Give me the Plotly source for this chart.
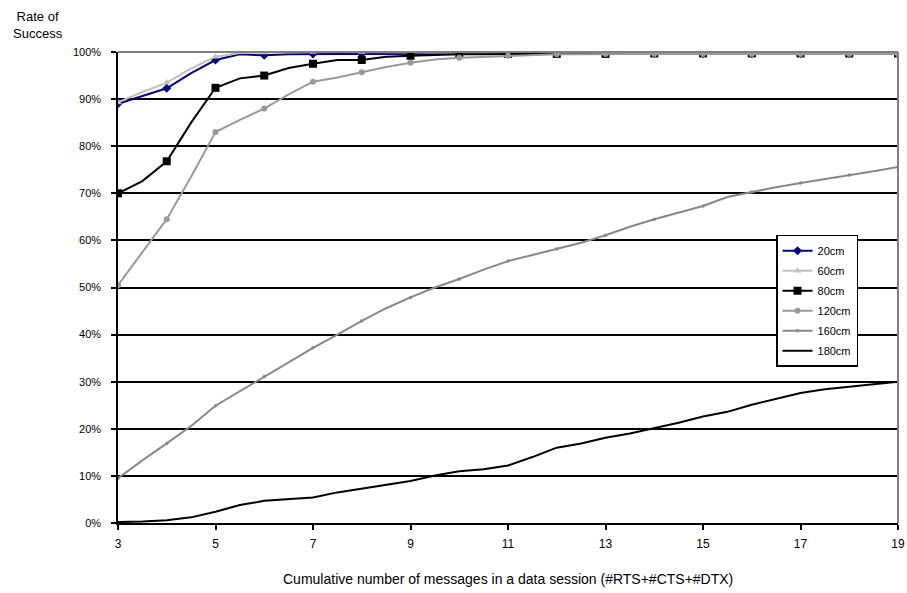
import plotly.graph_objects as go

x_half = [3 + 0.5 * i for i in range(33)]

s20 = [89.0, 90.7, 92.3, 95.5, 98.3, 99.5, 99.3, 99.5, 99.6, 99.6, 99.6, 99.6, 99.7, 99.7, 99.7, 99.7, 99.7,
       99.7, 99.7, 99.7, 99.7, 99.7, 99.7, 99.7, 99.7, 99.7, 99.7, 99.7, 99.7, 99.7, 99.7, 99.7, 99.7]
s60 = [89.3, 91.5, 93.5, 96.5, 99.0, 99.8, 99.9, 100.0, 100.0, 100.0, 100.0, 100.0, 100.0, 99.9, 99.8, 99.8, 99.8,
       99.7, 99.7, 99.7, 99.7, 99.7, 99.7, 99.7, 99.7, 99.7, 99.7, 99.7, 99.7, 99.7, 99.7, 99.7, 99.7]
s80 = [70.0, 72.6, 76.8, 85.0, 92.4, 94.4, 95.0, 96.6, 97.5, 98.3, 98.3, 99.0, 99.2, 99.4, 99.5, 99.5, 99.6,
       99.6, 99.6, 99.6, 99.6, 99.7, 99.7, 99.7, 99.7, 99.7, 99.7, 99.7, 99.7, 99.7, 99.7, 99.7, 99.7]
s120 = [50.5, 57.5, 64.5, 73.5, 83.0, 85.6, 88.0, 91.0, 93.7, 94.6, 95.7, 96.8, 97.7, 98.4, 98.8, 99.0, 99.2,
        99.3, 99.5, 99.5, 99.6, 99.6, 99.6, 99.6, 99.6, 99.6, 99.6, 99.6, 99.6, 99.6, 99.6, 99.6, 99.6]
s160 = [9.5, 13.3, 16.9, 20.6, 24.9, 28.0, 31.1, 34.2, 37.2, 40.0, 42.9, 45.6, 47.9, 50.0, 51.8, 53.8, 55.6,
        56.9, 58.2, 59.5, 61.1, 62.9, 64.5, 65.9, 67.3, 69.2, 70.3, 71.3, 72.2, 73.0, 73.9, 74.7, 75.6]
s180 = [0.2, 0.3, 0.6, 1.2, 2.4, 3.8, 4.7, 5.0, 5.4, 6.5, 7.3, 8.2, 8.9, 10.1, 11.0, 11.4, 12.2,
        14.0, 16.0, 16.9, 18.1, 19.0, 20.1, 21.3, 22.6, 23.6, 25.1, 26.3, 27.6, 28.4, 28.9, 29.4, 30.0]

x_ticks = [3, 5, 7, 9, 11, 13, 15, 17, 19]
y_ticks = [0, 10, 20, 30, 40, 50, 60, 70, 80, 90, 100]
y_labels = [f"{v}%" for v in y_ticks]

series = [
    ("20cm", s20, "#000080", "#000080", "diamond", 7),
    ("60cm", s60, "#C0C0C0", "#C0C0C0", "triangle-up", 7),
    ("80cm", s80, "#000000", "#000000", "square", 8),
    ("120cm", s120, "#999999", "#999999", "circle", 6),
    ("160cm", s160, "#888888", "#888888", "circle", 3.5),
    ("180cm", s180, "#000000", None, None, 0),
]

fig = go.Figure()
for name, ys, lc, mc, sym, ms in series:
    fig.add_trace(go.Scatter(x=x_half, y=ys, mode="lines", line=dict(color=lc, width=2),
                             legendgroup=name, showlegend=False, hoverinfo="skip"))
    if sym:
        xi = [xv for xv in x_half if float(xv).is_integer()]
        yi = [yv for xv, yv in zip(x_half, ys) if float(xv).is_integer()]
        fig.add_trace(go.Scatter(x=xi, y=yi, mode="markers",
                                 marker=dict(symbol=sym, size=ms, color=mc, line=dict(width=0)),
                                 legendgroup=name, showlegend=False))
for name, ys, lc, mc, sym, ms in series:
    if sym:
        fig.add_trace(go.Scatter(x=[None], y=[None], mode="lines+markers", name=name,
                                 line=dict(color=lc, width=2),
                                 marker=dict(symbol=sym, size=ms, color=mc, line=dict(width=0)),
                                 legendgroup=name))
    else:
        fig.add_trace(go.Scatter(x=[None], y=[None], mode="lines", name=name,
                                 line=dict(color=lc, width=2), legendgroup=name))

fig.update_layout(
    width=907, height=593,
    margin=dict(l=118, r=9, t=52, b=70),
    paper_bgcolor="white", plot_bgcolor="white",
    font=dict(family="Liberation Sans, Arial, sans-serif", color="#000000", size=11),
    showlegend=True,
    legend=dict(x=0.8436, y=0.612, xanchor="left", yanchor="top",
                bordercolor="#000000", borderwidth=1.5, bgcolor="white",
                font=dict(size=11), tracegroupgap=1, itemwidth=30),
    xaxis=dict(range=[3, 19], tickvals=x_ticks, ticks="outside", ticklen=5, tickwidth=1.5,
               tickcolor="#000000", showline=True, linecolor="#000000", linewidth=1.5,
               showgrid=False, zeroline=False, tickfont=dict(size=12), automargin=False,
               ticklabelstandoff=4, ticklabeloverflow="allow"),
    yaxis=dict(range=[0, 100], tickvals=y_ticks, ticktext=y_labels, ticks="outside", ticklen=5,
               tickwidth=1.5, tickcolor="#000000", showline=True, linecolor="#000000", linewidth=1.5,
               showgrid=True, gridcolor="#000000", gridwidth=1.5, zeroline=False,
               tickfont=dict(size=11), automargin=False, ticklabelstandoff=8),
    annotations=[
        dict(text="Rate of<br>Success", xref="paper", yref="paper", x=-0.1026, y=1.057,
             xanchor="center", yanchor="middle", showarrow=False, font=dict(size=13)),
        dict(text="Cumulative number of messages in a data session (#RTS+#CTS+#DTX)",
             xref="paper", yref="paper", x=0.5, y=-0.119, xanchor="center", yanchor="middle",
             showarrow=False, font=dict(size=14)),
    ],
    shapes=[
        dict(type="line", xref="paper", yref="paper", x0=0, x1=1, y0=1, y1=1,
             line=dict(color="#808080", width=2)),
        dict(type="line", xref="paper", yref="paper", x0=1, x1=1, y0=0, y1=1,
             line=dict(color="#808080", width=2)),
    ],
)

fig.write_html(
    "out.html",
    config={"displayModeBar": False},
    post_script="document.body.style.margin='0';document.body.style.overflow='hidden';",
)
